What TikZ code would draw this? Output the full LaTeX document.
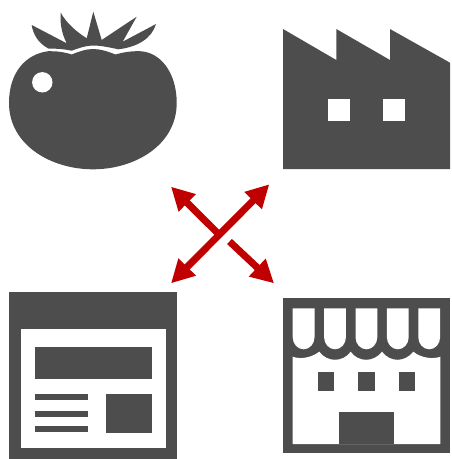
\documentclass[tikz,border=0pt]{standalone}
\usepackage{tikz}
\usetikzlibrary{arrows.meta}
\definecolor{icongray}{RGB}{77,77,77}
\definecolor{arrred}{RGB}{192,0,0}

\begin{document}
\begin{tikzpicture}[
  x=1pt, y=-1pt,
  icon/.style={fill=icongray, draw=none},
  hole/.style={fill=white, draw=none},
  arr/.style={-{Triangle[length=23pt, width=23pt]}, line width=7pt, arrred}
]
\useasboundingbox (0,0) rectangle (452,459);

% Tomato
\path[icon] (31.7,25) -- (66.7,43.3) .. controls (61,32) and (60,22) .. (60.7,12.7)
  .. controls (67,24) and (77,32) .. (86.7,38.3) -- (93.3,11.7) -- (101.7,40)
  -- (136.7,16.7) -- (122.7,41.7) -- (156,24)
  .. controls (152,38) and (138,47) .. (118.3,49.3)
  .. controls (108,47) and (100,45.5) .. (93.3,45.5)
  .. controls (86,45.5) and (79,48) .. (71.7,50.7)
  .. controls (64,49) and (56,48.5) .. (48.3,48.5)
  .. controls (38,43) and (33,34) .. (31.7,25) -- cycle;
\path[icon] (48.3,51.2) .. controls (56,51) and (64,52) .. (71.7,54.5)
  .. controls (79,51.5) and (86,49) .. (93.3,49)
  .. controls (100,49) and (108,51.5) .. (115.5,54.5)
  .. controls (124,52) and (132,51) .. (140,51.2)
  .. controls (160,52) and (176.7,72) .. (176.7,103)
  .. controls (176.7,145) and (135,169.3) .. (93,169.3)
  .. controls (51,169.3) and (9,145) .. (9,103)
  .. controls (9,72) and (26,54) .. (48.3,51.2) -- cycle;
\path[hole] (42.3,82.3) circle (10.2);

% Factory
\path[icon] (283,29) -- (336.3,60) -- (336.3,29) -- (390,60) -- (390,29)
  -- (450,62.7) -- (450,169) -- (283,169) -- cycle;
\foreach \wx in {327.7,382.7}
  \path[hole] (\wx,99) rectangle ++(22.6,22.3);

% Website
\path[icon] (9,291.7) rectangle (177.3,459);
\path[hole] (20.7,328.7) rectangle (165.7,448.3);
\path[icon] (34.7,347) rectangle (151.7,379);
\path[icon] (106,393.7) rectangle (151.7,432.7);
\foreach \ly in {394.3,410.7,426.3}
  \path[icon] (34.7,\ly) rectangle ++(53.6,5.8);

% Store
\path[icon] (283,298.3) rectangle (450,453.3);
\foreach \tx in {292.7,324.1,355.5,386.9,418.3}
  \path[hole] (\tx,308.3) -- ++(21.8,0) -- ++(0,29)
    .. controls +(0,6.5) and +(6,0) .. ++(-10.9,12)
    .. controls +(-6,0) and +(0,6.5) .. ++(-10.9,-12) -- cycle;
\path[hole] (292.7,356.7) .. controls (300,359.5) and (311,358) .. (319.3,351.7)
  .. controls (327,362.5) and (343,362.5) .. (350.7,351.7)
  .. controls (358,362.5) and (374,362.5) .. (382,351.7)
  .. controls (390,362.5) and (405,362.5) .. (413.3,351.7)
  .. controls (421,358) and (433,359.5) .. (440.3,356.7)
  -- (440.3,444) -- (292.7,444) -- cycle;
\foreach \wx in {317.7,358.3,399}
  \path[icon] (\wx,372.3) rectangle ++(16.3,19);
\path[icon] (339.3,412.3) rectangle (393.7,444);

% Arrows
\coordinate (bl) at (171,283.3);
\coordinate (tr) at (269.3,184.3);
\coordinate (tl) at (171,186.7);
\coordinate (cross) at (220,235.5);
\coordinate (brs) at (229.5,241.5);
\coordinate (br) at (274,283.3);
\draw[arr] (cross) -- (tl);
\draw[arr] (brs) -- (br);
\draw[arr, {Triangle[length=23pt, width=23pt]}-{Triangle[length=23pt, width=23pt]}] (bl) -- (tr);
\end{tikzpicture}
\end{document}
